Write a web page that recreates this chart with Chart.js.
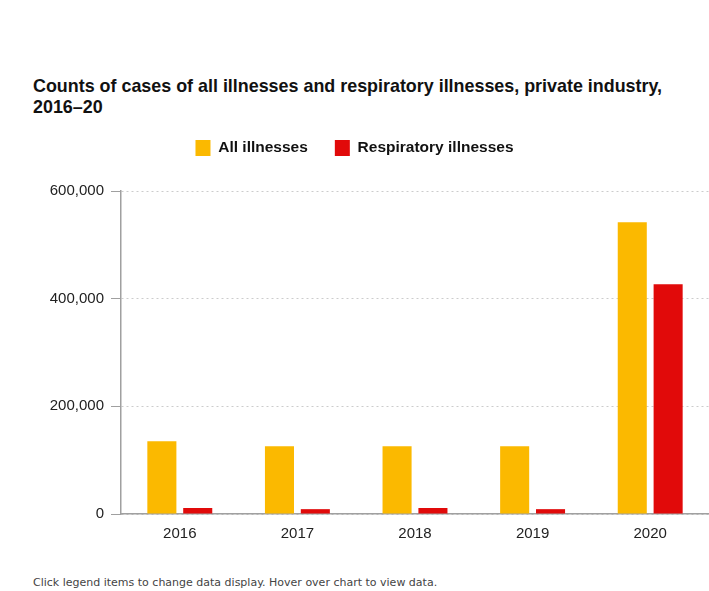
<!DOCTYPE html>
<html lang="en">
<head>
    <meta charset="UTF-8">
    <title>Counts of cases of all illnesses and respiratory illnesses</title>
    <script src="https://cdn.jsdelivr.net/npm/chart.js"></script>
    <style>
        body {
            margin: 0;
            background: white;
            width: 709px;
            height: 591px;
            position: relative;
            overflow: hidden;
            font-family: "Liberation Sans", Arial, sans-serif;
        }
        .title {
            position: absolute;
            left: 33px;
            top: 76px;
            width: 660px;
            font-weight: bold;
            font-size: 17.9px;
            line-height: 21px;
            color: #111;
        }
        .chart-box {
            position: absolute;
            left: 0;
            top: 113px;
            width: 709px;
            height: 441px;
        }
        .note {
            position: absolute;
            left: 33px;
            top: 576px;
            font-family: "DejaVu Sans", sans-serif;
            font-size: 11px;
            color: #444;
        }
    </style>
</head>
<body>
    <div class="title">Counts of cases of all illnesses and respiratory illnesses, private industry, 2016–20</div>
    <div class="chart-box"><canvas id="chart"></canvas></div>
    <div class="note">Click legend items to change data display. Hover over chart to view data.</div>

    <script>
        const years = ['2016', '2017', '2018', '2019', '2020'];
        const allIllnesses = [135000, 126000, 126000, 126000, 542000];
        const respiratoryIllnesses = [11200, 9000, 11200, 9000, 427000];
        const yTicks = [0, 200000, 400000, 600000];

        const grey = '#a0a0a0';
        const font = '"Liberation Sans", Arial, sans-serif';

        // push the plot area down below the legend
        const legendGap = {
            id: 'legendGap',
            beforeInit(chart) {
                const fit = chart.legend.fit;
                chart.legend.fit = function () {
                    fit.bind(chart.legend)();
                    this.height += 25;
                };
            }
        };

        new Chart(document.getElementById('chart'), {
            type: 'bar',
            data: {
                labels: years,
                datasets: [
                    {
                        label: 'All illnesses',
                        data: allIllnesses,
                        backgroundColor: '#FBB900'
                    },
                    {
                        label: 'Respiratory illnesses',
                        data: respiratoryIllnesses,
                        backgroundColor: '#E10A0A'
                    }
                ]
            },
            plugins: [legendGap],
            options: {
                responsive: true,
                maintainAspectRatio: false,
                animation: false,
                categoryPercentage: 0.61,
                barPercentage: 0.81,
                layout: { padding: 0 },
                plugins: {
                    legend: {
                        position: 'top',
                        labels: {
                            boxWidth: 15,
                            boxHeight: 16,
                            padding: 27,
                            color: '#111',
                            font: { family: font, size: 15.5, weight: 'bold' }
                        }
                    }
                },
                scales: {
                    x: {
                        grid: { display: false, drawTicks: false },
                        border: { color: grey, width: 1.5 },
                        ticks: {
                            padding: 11,
                            color: '#222',
                            font: { family: font, size: 15 }
                        }
                    },
                    y: {
                        min: 0,
                        max: 600000,
                        afterBuildTicks: (scale) => {
                            scale.ticks = yTicks.map(v => ({ value: v }));
                        },
                        afterFit: (scale) => { scale.width = 121; },
                        grid: {
                            color: '#cccccc',
                            tickColor: grey,
                            tickLength: 10,
                            tickBorderDash: []
                        },
                        border: { color: grey, width: 1.5, dash: [2, 3] },
                        ticks: {
                            padding: 7,
                            color: '#222',
                            font: { family: font, size: 15 },
                            callback: (v) => v.toLocaleString('en-US')
                        }
                    }
                }
            }
        });
    </script>
</body>
</html>
